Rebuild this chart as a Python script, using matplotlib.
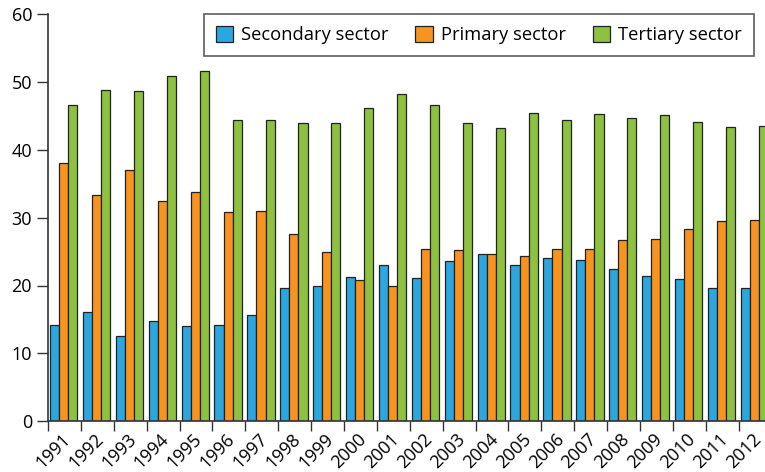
import matplotlib.pyplot as plt
import numpy as np

plt.rcParams['font.family'] = ['Open Sans', 'DejaVu Sans']

# data (percent share per sector)
years = [str(y) for y in range(1991, 2013)]
secondary = [14.2, 16.1, 12.6, 14.8, 14.1, 14.2, 15.7, 19.6, 19.9, 21.3, 23.0,
             21.1, 23.6, 24.7, 23.0, 24.1, 23.8, 22.4, 21.4, 21.0, 19.7, 19.6]
primary = [38.0, 33.4, 37.0, 32.4, 33.8, 30.8, 31.0, 27.6, 25.0, 20.8, 20.0,
           25.4, 25.3, 24.7, 24.4, 25.4, 25.4, 26.7, 26.9, 28.3, 29.5, 29.6]
tertiary = [46.6, 48.8, 48.6, 50.8, 51.6, 44.4, 44.4, 43.9, 43.9, 46.2, 48.2,
            46.6, 44.0, 43.2, 45.4, 44.4, 45.2, 44.7, 45.1, 44.1, 43.3, 43.5]

series = [('Secondary sector', secondary, '#2CA6DF'),
          ('Primary sector', primary, '#F7931E'),
          ('Tertiary sector', tertiary, '#8DC13F')]

fig = plt.figure(figsize=(7.65, 4.72), dpi=100)
ax = fig.add_axes([48 / 765, 50.7 / 472, 1 - 48 / 765, 407.4 / 472])

x = np.arange(len(years))
w = 0.277
for k, (name, vals, col) in enumerate(series):
    ax.bar(x + 0.06 + k * w, vals, w, align='edge', color=col,
           edgecolor='#222222', linewidth=0.9, label=name)

ax.set_xlim(0, 21.8)
ax.set_ylim(0, 60)
ax.set_yticks(range(0, 61, 10))

# ticks at group boundaries, labels under group centres
ax.set_xticks(x)
ax.set_xticklabels([])
ax.set_xticks(x + 0.6, minor=True)
ax.set_xticklabels(years, minor=True, rotation=45, ha='right',
                   rotation_mode='anchor', va='center')
ax.tick_params(axis='x', which='minor', length=0, pad=11, labelsize=13)
ax.tick_params(axis='x', which='major', length=7, width=1, color='#333333')
ax.tick_params(axis='y', length=8, width=1, color='#333333', labelsize=13)

for s in ['top', 'right']:
    ax.spines[s].set_visible(False)
for s in ['left', 'bottom']:
    ax.spines[s].set_color('#333333')
    ax.spines[s].set_linewidth(1.2)

leg = ax.legend(ncol=3, loc='upper right', bbox_to_anchor=(754 / 765, 1 - 14.3 / 472),
                bbox_transform=fig.transFigure, borderaxespad=0, fontsize=13.2,
                frameon=True, fancybox=False, edgecolor='#333333',
                handlelength=0.95, handleheight=0.95, handletextpad=0.45,
                columnspacing=1.45, borderpad=0.65)
leg.get_frame().set_linewidth(1.2)

fig.savefig('out.png', dpi=100)
